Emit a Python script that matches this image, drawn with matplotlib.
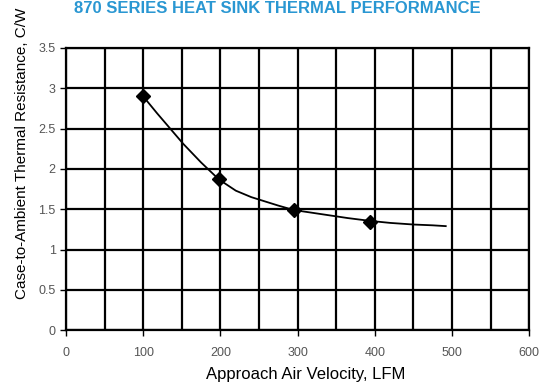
# heat sink thermal performance chart
import numpy as np
import matplotlib.pyplot as plt

# measured data points (diamond markers)
velocity = [100, 198, 295, 394]
resistance = [2.9, 1.87, 1.49, 1.34]

# points
curve_velocity = [100, 118, 135, 152, 175, 198, 220, 240, 260, 275, 295, 330, 365, 394, 420, 450, 475, 492]
curve_resistance = [2.9, 2.69, 2.5, 2.31, 2.08, 1.87, 1.73, 1.65, 1.59, 1.545, 1.49, 1.44, 1.39, 1.355, 1.33, 1.31, 1.30, 1.29]

title = "870 SERIES HEAT SINK THERMAL PERFORMANCE"
xlabel = "Approach Air Velocity, LFM"
ylabel = "Case-to-Ambient Thermal Resistance, C/W"
xticks = [0, 100, 200, 300, 400, 500, 600]
yticks = [0, 0.5, 1, 1.5, 2, 2.5, 3, 3.5]

plt.rcParams['font.family'] = ['Liberation Sans', 'DejaVu Sans']

fig = plt.figure(figsize=(5.5, 3.87), dpi=100)
ax = fig.add_axes([0.12, 0.147, 0.842, 0.729])

ax.plot(curve_velocity, curve_resistance, color='black', lw=1.3, zorder=3)
ax.plot(velocity, resistance, linestyle='none', marker='D', ms=7, color='black', zorder=4)

ax.set_xlim(0, 600)
ax.set_ylim(0, 3.5)
ax.set_xticks(xticks)
ax.set_yticks(yticks)
ax.set_yticklabels(['0', '0.5', '1', '1.5', '2', '2.5', '3', '3.5'])
ax.set_xticks(np.arange(0, 601, 50), minor=True)
ax.grid(True, which='both', color='black', lw=1.6)
ax.set_axisbelow(True)
ax.tick_params(axis='both', which='major', length=4, width=1, labelsize=9, labelcolor='#555555', color='black')
ax.tick_params(axis='x', which='minor', length=0)
ax.tick_params(axis='x', pad=8)
for s in ax.spines.values():
    s.set_linewidth(1.6)
    s.set_color('black')

# axis labels placed in figure pixels to match the reference layout
fig.text(0.556, 1 - 375 / 387, xlabel, ha='center', va='center', fontsize=12, color='black')
fig.text(0.04, 1 - 153 / 387, ylabel, ha='center', va='center', rotation=90, fontsize=11, color='black')

fig.text(0.505, 1 - 13 / 387, title, ha='center', va='baseline', fontsize=12, fontweight='bold',
         color='#2a97d2')

fig.savefig('out.png', dpi=100)
